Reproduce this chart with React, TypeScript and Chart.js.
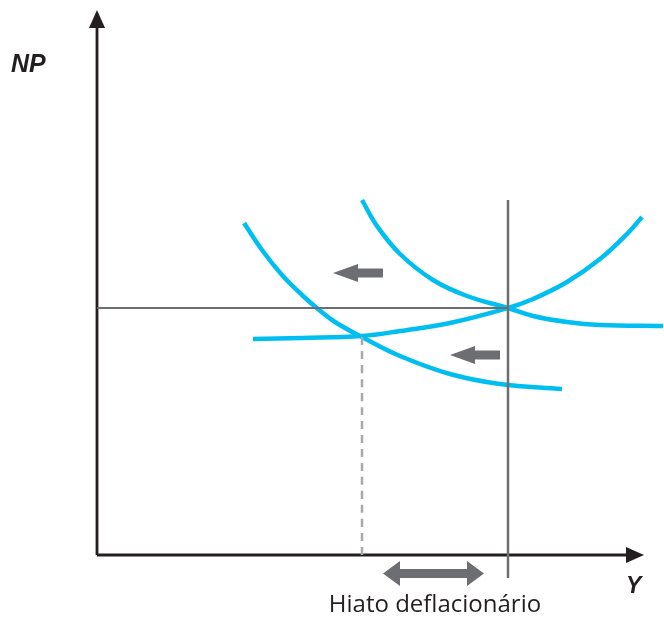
import React, { useEffect, useRef } from "react";
import { Chart, registerables } from "chart.js";

Chart.register(...registerables);

// Economic diagram data (units: arbitrary output Y, price level NP; origin at axes crossing)
const demandLeft = [
  { x: 147, y: 332 },
  { x: 165, y: 305 },
  { x: 185, y: 280 },
  { x: 205, y: 260 },
  { x: 221, y: 246 },
  { x: 238, y: 233 },
  { x: 265, y: 218 },
  { x: 303, y: 199 },
  { x: 353, y: 181 },
  { x: 403, y: 171 },
  { x: 465, y: 166 },
];
const demandRight = [
  { x: 265, y: 355 },
  { x: 280, y: 329 },
  { x: 303, y: 301 },
  { x: 336, y: 275 },
  { x: 370, y: 259 },
  { x: 411, y: 247 },
  { x: 436, y: 239 },
  { x: 470, y: 233 },
  { x: 503, y: 230 },
  { x: 566, y: 229 },
];
const supply = [
  { x: 156, y: 216 },
  { x: 205, y: 217 },
  { x: 265, y: 219 },
  { x: 303, y: 224 },
  { x: 353, y: 232 },
  { x: 411, y: 247 },
  { x: 436, y: 256 },
  { x: 470, y: 273 },
  { x: 503, y: 296 },
  { x: 530, y: 321 },
  { x: 545, y: 338 },
];
const equilibriumY = 411; // full-employment output
const equilibriumNP = 247;
const recessionY = 265;
const recessionNP = 219;
const axisTopNP = 545;
const axisRightY = 547;

const xAxisLabel = "Y";
const yAxisLabel = "NP";
const gapLabel = "Hiato deflacionário";

// arrow annotations in data units: [tipX, tailX, y]
const shiftArrows = [
  [236, 286, 282],
  [353, 403, 200],
];
const gapArrow = [286, 387, -18.5];

const CYAN = "#00bff0";
const GRAY = "#6d6e71";
const AXIS = "#231f20";

export default function App() {
  const ref = useRef<HTMLCanvasElement | null>(null);

  useEffect(() => {
    if (!ref.current) return;

    const decor = {
      id: "decor",
      afterDatasetsDraw(chart: any) {
        const ctx = chart.ctx as CanvasRenderingContext2D;
        const xs = chart.scales.x;
        const ys = chart.scales.y;
        const px = (v: number) => xs.getPixelForValue(v);
        const py = (v: number) => ys.getPixelForValue(v);
        ctx.save();

        // axis arrowheads
        ctx.fillStyle = AXIS;
        const ox = px(0);
        const oy = py(0);
        const ty = py(axisTopNP);
        ctx.beginPath();
        ctx.moveTo(ox, ty);
        ctx.lineTo(ox - 8, ty + 18);
        ctx.lineTo(ox + 8, ty + 18);
        ctx.closePath();
        ctx.fill();
        const tx = px(axisRightY);
        ctx.beginPath();
        ctx.moveTo(tx, oy);
        ctx.lineTo(tx - 18, oy - 8);
        ctx.lineTo(tx - 18, oy + 8);
        ctx.closePath();
        ctx.fill();

        // shift arrows (pointing left)
        ctx.fillStyle = GRAY;
        for (const [tip, tail, yv] of shiftArrows) {
          const a = px(tip);
          const b = px(tail);
          const y = py(yv);
          const hl = 25;
          ctx.beginPath();
          ctx.moveTo(a, y);
          ctx.lineTo(a + hl, y - 9);
          ctx.lineTo(a + hl, y - 4.5);
          ctx.lineTo(b, y - 4.5);
          ctx.lineTo(b, y + 4.5);
          ctx.lineTo(a + hl, y + 4.5);
          ctx.lineTo(a + hl, y + 9);
          ctx.closePath();
          ctx.fill();
        }

        // double-headed gap arrow
        {
          const a = px(gapArrow[0]);
          const b = px(gapArrow[1]);
          const y = py(gapArrow[2]);
          const hl = 17;
          const hh = 12.5;
          const sh = 4.5;
          ctx.beginPath();
          ctx.moveTo(a, y);
          ctx.lineTo(a + hl, y - hh);
          ctx.lineTo(a + hl, y - sh);
          ctx.lineTo(b - hl, y - sh);
          ctx.lineTo(b - hl, y - hh);
          ctx.lineTo(b, y);
          ctx.lineTo(b - hl, y + hh);
          ctx.lineTo(b - hl, y + sh);
          ctx.lineTo(a + hl, y + sh);
          ctx.lineTo(a + hl, y + hh);
          ctx.closePath();
          ctx.fill();
        }

        // labels
        ctx.fillStyle = AXIS;
        ctx.textBaseline = "alphabetic";
        ctx.font = "italic bold 25px 'Liberation Sans', Arial, sans-serif";
        ctx.textAlign = "left";
        ctx.fillText(yAxisLabel, ox - 86, py(483));
        ctx.font = "italic bold 23px 'Liberation Sans', Arial, sans-serif";
        ctx.fillText(xAxisLabel, px(529), py(-38));
        ctx.font = "24px 'Open Sans', sans-serif";
        ctx.textAlign = "center";
        ctx.fillText(gapLabel, px(338), py(-57), 224);

        ctx.restore();
      },
    };

    const line = (data: any[], color: string, width: number, dash: number[] = []) => ({
      data,
      borderColor: color,
      borderWidth: width,
      borderDash: dash,
      showLine: true,
      pointRadius: 0,
      fill: false,
      tension: 0.4,
      borderCapStyle: "butt" as const,
    });

    const chart = new Chart(ref.current, {
      type: "scatter",
      data: {
        datasets: [
          line(
            [
              { x: 0, y: equilibriumNP },
              { x: equilibriumY, y: equilibriumNP },
            ],
            GRAY,
            2.2
          ),
          line(
            [
              { x: equilibriumY, y: -23 },
              { x: equilibriumY, y: 355 },
            ],
            GRAY,
            2.5
          ),
          line(
            [
              { x: recessionY, y: 0 },
              { x: recessionY, y: recessionNP },
            ],
            "#a7a9ac",
            2.5,
            [8, 6]
          ),
          line(
            [
              { x: 0, y: 0 },
              { x: 0, y: axisTopNP - 10 },
            ],
            AXIS,
            2.8
          ),
          line(
            [
              { x: 0, y: 0 },
              { x: axisRightY - 10, y: 0 },
            ],
            AXIS,
            2.8
          ),
          line(demandLeft, CYAN, 4.5),
          line(demandRight, CYAN, 4.5),
          line(supply, CYAN, 4.5),
        ],
      },
      options: {
        animation: false,
        responsive: true,
        maintainAspectRatio: false,
        layout: { padding: 0 },
        plugins: {
          legend: { display: false },
          tooltip: { enabled: false },
        },
        scales: {
          x: { type: "linear", min: -97, max: 567, display: false },
          y: { type: "linear", min: -71, max: 555, display: false },
        },
      },
      plugins: [decor],
    });

    return () => chart.destroy();
  }, []);

  return (
    <div
      style={{
        position: "absolute",
        left: 0,
        top: 0,
        width: 664,
        height: 626,
        background: "#fff",
      }}
    >
      <canvas ref={ref} />
    </div>
  );
}
